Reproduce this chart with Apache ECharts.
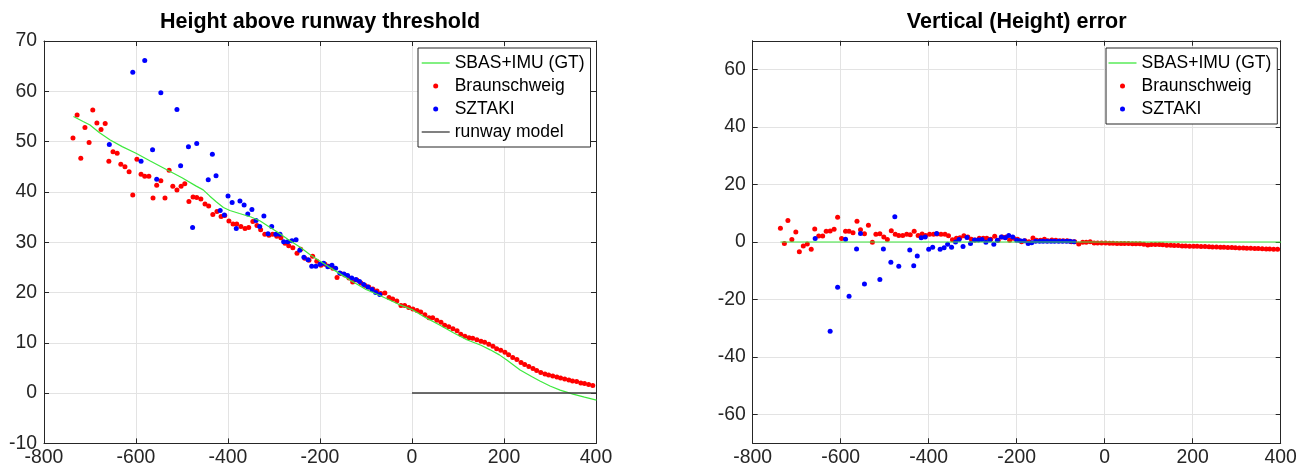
<!DOCTYPE html>
<html><head><meta charset="utf-8">
<script src="https://cdn.jsdelivr.net/npm/echarts@6/dist/echarts.min.js"></script>
<style>html,body{margin:0;padding:0;background:#fff}#c{width:1309px;height:473px}</style>
</head><body><div id="c"></div>
<script>
// ---------- data ----------
const xTicks = [-800, -600, -400, -200, 0, 200, 400];
const hTicks = [-10, 0, 10, 20, 30, 40, 50, 60, 70];
const errTicks = [-60, -40, -20, 0, 20, 40, 60];

// ground truth (SBAS+IMU) height above threshold
const gtX = [-736, -715, -700, -680, -656, -630, -600, -570, -533, -500, -470, -454, -440, -425, -410, -396, -375, -350, -330, -310, -290, -270, -243, -220, -193, -165, -135, -100, -70, -30, 0, 30, 61, 90, 119, 150, 170, 190, 206, 235, 260, 278, 300, 322, 350, 375, 401];
const gtH = [55.0, 54.0, 53.3, 51.8, 50.3, 49.0, 47.7, 46.2, 44.4, 42.8, 41.2, 40.4, 39.2, 38.0, 36.9, 36.3, 35.7, 35.0, 34.2, 33.0, 31.9, 30.6, 29.0, 27.4, 25.8, 24.2, 22.5, 20.6, 19.4, 17.7, 16.6, 15.0, 13.5, 12.0, 10.6, 9.5, 8.6, 7.6, 6.6, 4.6, 3.3, 2.4, 1.4, 0.6, -0.2, -0.8, -1.4];

// Braunschweig estimates
const bsX = [
  -737, -728, -720, -711, -702, -694, -685, -676, -667, -659,
  -650, -641, -633, -624, -615, -607, -598, -589, -581, -572,
  -563, -555, -546, -537, -528, -520, -511, -502, -494, -485,
  -476, -468, -459, -450, -442, -433, -424, -415, -407, -398,
  -389, -381, -372, -363, -355, -346, -337, -329, -320, -311,
  -303, -294, -285, -276, -268, -259, -250, -242, -233, -224,
  -216, -207, -198, -189, -181, -172, -163, -155, -146, -137,
  -129, -120, -111, -102, -94, -85, -76, -68, -59, -50,
  -42, -33, -24, -16, -7, 2, 11, 19, 28, 37,
  45, 54, 63, 71, 80, 89, 98, 106, 115, 124,
  132, 141, 150, 158, 167, 176, 184, 193, 202, 210,
  219, 228, 237, 245, 254, 263, 271, 280, 289, 297,
  306, 315, 323, 332, 341, 349, 358, 367, 375, 384,
  393, 401];
const bsH = [
  50.7, 55.3, 46.7, 52.8, 49.8, 56.3, 53.7, 52.4, 53.6, 46.1,
  48.0, 47.7, 45.5, 45.0, 44.0, 39.4, 46.5, 43.5, 43.1, 43.1,
  38.8, 41.3, 42.2, 38.8, 44.3, 41.1, 40.4, 41.1, 41.6, 38.1,
  39.0, 38.9, 38.6, 37.6, 37.2, 35.5, 36.1, 35.1, 35.3, 34.2,
  33.6, 33.6, 33.1, 32.7, 32.9, 34.1, 33.3, 32.5, 31.6, 31.4,
  31.6, 31.2, 30.9, 29.8, 29.3, 28.9, 27.8, 28.6, 26.8, 26.4,
  27.2, 26.2, 25.4, 25.6, 25.2, 24.8, 23.0, 23.8, 23.5, 22.9,
  22.1, 22.5, 21.9, 21.4, 21.1, 20.7, 20.3, 19.8, 19.9, 19.0,
  18.7, 18.3, 17.4, 17.4, 17.0, 16.7, 16.4, 16.1, 15.6, 15.0,
  15.0, 14.5, 14.1, 13.5, 13.2, 12.8, 12.4, 11.7, 11.3, 11.0,
  10.9, 10.6, 10.3, 10.1, 9.7, 9.3, 8.8, 8.5, 8.1, 7.6,
  7.1, 6.7, 6.1, 5.7, 5.3, 4.9, 4.5, 4.1, 3.8, 3.6,
  3.4, 3.2, 3.0, 2.8, 2.6, 2.4, 2.3, 2.0, 1.9, 1.7,
  1.5, 1.3];
const bsErr = [
  4.8, -0.5, 7.5, 0.9, 3.5, -3.4, -1.4, -0.7, -2.5, 4.5,
  2.1, 2.1, 3.7, 3.8, 4.4, 8.6, 1.2, 3.7, 3.7, 3.2,
  7.2, 4.3, 2.9, 5.8, -0.1, 2.7, 2.9, 1.7, 0.9, 3.9,
  2.7, 2.3, 2.3, 2.7, 2.5, 3.7, 2.3, 2.8, 2.3, 2.7,
  2.7, 2.8, 2.7, 2.7, 2.2, 0.8, 1.3, 1.5, 2.2, 1.7,
  1.0, 0.7, 1.3, 1.3, 1.3, 1.0, 2.0, 0.6, 1.7, 1.7,
  0.6, 1.3, 1.0, 0.1, 0.4, 0.1, 1.4, 0.6, 0.6, 1.0,
  0.4, 0.7, 0.6, 0.4, 0.4, 0.4, 0.1, 0.1, -0.7, -0.1,
  -0.1, 0.1, -0.35, -0.35, -0.35, -0.35, -0.4, -0.45, -0.5, -0.5,
  -0.55, -0.55, -0.6, -0.6, -0.65, -0.75, -1.0, -0.85, -0.85, -0.9,
  -0.95, -1.1, -1.15, -1.2, -1.25, -1.35, -1.4, -1.45, -1.45, -1.5,
  -1.55, -1.6, -1.65, -1.7, -1.75, -1.8, -1.85, -1.9, -1.95, -2.0,
  -2.05, -2.1, -2.15, -2.2, -2.25, -2.3, -2.35, -2.4, -2.45, -2.5,
  -2.55, -2.6];

// SZTAKI estimates
const szX = [
  -658, -624, -607, -589, -581, -564, -555, -546, -511, -503,
  -486, -477, -468, -443, -434, -426, -417, -408, -400, -391,
  -382, -374, -365, -357, -348, -339, -331, -322, -313, -305,
  -296, -287, -279, -270, -261, -252, -244, -235, -226, -218,
  -209, -200, -192, -183, -174, -166, -157, -148, -140, -131,
  -122, -114, -105, -96, -87, -79, -70];
const szH = [
  49.4, 79.5, 63.8, 46.1, 66.1, 48.4, 42.5, 59.7, 56.4, 45.2,
  49.0, 32.9, 49.6, 42.4, 47.5, 43.2, 36.3, 35.4, 39.2, 37.9,
  32.7, 38.2, 37.4, 35.6, 36.5, 34.3, 33.1, 35.2, 31.7, 33.1,
  31.6, 31.6, 30.1, 30.1, 30.3, 30.5, 28.4, 27.0, 26.5, 25.2,
  25.2, 25.6, 25.8, 25.1, 25.4, 24.8, 23.9, 23.7, 23.4, 22.9,
  22.6, 22.2, 21.6, 21.1, 20.6, 20.0, 19.6];
const szErr = [
  1.2, -31.0, -15.7, 1.0, -18.9, -2.4, 3.0, -14.6, -13.0, -2.4,
  -7.0, 8.8, -8.4, -2.8, -8.3, -4.9, 1.5, 1.7, -2.5, -1.8,
  3.0, -2.5, -2.0, -0.8, -1.8, 0.0, 0.9, -1.6, 1.6, -0.5,
  0.7, 0.7, 0.9, -0.1, 0.7, -0.8, 0.6, 1.7, 1.5, 2.3,
  1.7, 0.6, 0.4, 0.4, -0.5, -0.3, 0.3, 0.3, 0.3, 0.3,
  0.3, 0.3, 0.3, 0.3, 0.3, 0.3, 0.1];

// runway model and GT reference in error plot
const runwayX = [0, 400];
const runwayH = [0, 0];
const gtErrX = [-737, 401];
const gtErr = [0, 0];

// ---------- chart ----------
const FONT = 'Liberation Sans, Arial, Helvetica, sans-serif';
const AX = '#262626';
const GRID = '#e3e3e3';
const GREEN = '#3ee83e';
const RUNWAY = '#3c3c3c';
const zip = (a, b) => a.map((v, i) => [v, b[i]]);

function xAxisPair(gi) {
  const base = {
    type: 'value', gridIndex: gi, min: xTicks[0], max: xTicks[xTicks.length - 1], interval: 200,
    axisLine: { show: true, onZero: false, lineStyle: { color: AX, width: 1 } },
    axisTick: { show: true, inside: true, length: 5, lineStyle: { color: AX } }
  };
  return [
    Object.assign({}, base, {
      position: 'bottom',
      axisLabel: { show: true, fontSize: 19.4, color: AX, fontFamily: FONT, margin: 5 },
      splitLine: { show: true, lineStyle: { color: GRID, width: 1 } }
    }),
    Object.assign({}, base, {
      position: 'top', axisLabel: { show: false }, splitLine: { show: false }
    })
  ];
}
function yAxisPair(gi, min, max, interval, ticks) {
  const base = {
    type: 'value', gridIndex: gi, min: min, max: max, interval: interval,
    axisLine: { show: true, onZero: false, lineStyle: { color: AX, width: 1 } },
    axisTick: { show: true, inside: true, length: 5, lineStyle: { color: AX } }
  };
  if (ticks) base.axisTick.customValues = ticks;
  const lab = { show: true, fontSize: 19.4, color: AX, fontFamily: FONT, margin: 7 };
  if (ticks) lab.customValues = ticks;
  return [
    Object.assign({}, base, {
      position: 'left', axisLabel: lab,
      splitLine: { show: true, lineStyle: { color: GRID, width: 1 } }
    }),
    Object.assign({}, base, {
      position: 'right', axisLabel: { show: false }, splitLine: { show: false }
    })
  ];
}

const xa = xAxisPair(0).concat(xAxisPair(1));
const ya = yAxisPair(0, -10, 70, 10, null).concat(yAxisPair(1, -70, 70, 10, errTicks));

const legendText = { fontSize: 17.5, color: '#000', fontFamily: FONT, lineHeight: 18 };
const LINE_ICON = 'path://M0,0H28V1.3H0Z';
const gtLegend = { name: 'SBAS+IMU (GT)', icon: LINE_ICON, itemStyle: { color: GREEN } };
const rwLegend = { name: 'runway model', icon: LINE_ICON, itemStyle: { color: RUNWAY } };

const option = {
  animation: false,
  backgroundColor: '#fff',
  title: [
    { text: 'Height above runway threshold', left: 320, top: 11, textAlign: 'center', padding: 0,
      textStyle: { fontSize: 21.5, fontWeight: 'bold', color: '#000', fontFamily: FONT } },
    { text: 'Vertical (Height) error', left: 1016.7, top: 11, textAlign: 'center', padding: 0,
      textStyle: { fontSize: 21.5, fontWeight: 'bold', color: '#000', fontFamily: FONT } }
  ],
  grid: [
    { left: 44, right: 713, top: 41, bottom: 29.6, show: false },
    { left: 752.7, right: 28.3, top: 40.75, bottom: 29.75, show: false }
  ],
  xAxis: xa,
  yAxis: ya,
  legend: [
    { orient: 'vertical', left: 418, top: 48, padding: [6, 6, 6, 3.7], itemGap: 5,
      itemWidth: 28, itemHeight: 5, selectedMode: false, symbolKeepAspect: true,
      borderColor: AX, borderWidth: 1, backgroundColor: '#fff',
      textStyle: legendText,
      data: [gtLegend, 'Braunschweig', 'SZTAKI', rwLegend] },
    { orient: 'vertical', left: 1106, top: 48, padding: [6, 6, 6, 2.5], itemGap: 5,
      itemWidth: 28, itemHeight: 5, selectedMode: false, symbolKeepAspect: true,
      borderColor: AX, borderWidth: 1, backgroundColor: '#fff',
      textStyle: legendText,
      data: [gtLegend, 'Braunschweig', 'SZTAKI'] }
  ],
  series: [
    { name: 'SBAS+IMU (GT)', type: 'line', xAxisIndex: 0, yAxisIndex: 0, data: zip(gtX, gtH),
      symbol: 'none', smooth: false, lineStyle: { color: GREEN, width: 1.2 }, itemStyle: { color: GREEN }, clip: true },
    { name: 'Braunschweig', type: 'scatter', xAxisIndex: 0, yAxisIndex: 0, data: zip(bsX, bsH),
      symbol: 'circle', symbolSize: 5, itemStyle: { color: '#ff0000', opacity: 1 }, clip: true },
    { name: 'SZTAKI', type: 'scatter', xAxisIndex: 0, yAxisIndex: 0, data: zip(szX, szH),
      symbol: 'circle', symbolSize: 5, itemStyle: { color: '#0000ff', opacity: 1 }, clip: true },
    { name: 'runway model', type: 'line', xAxisIndex: 0, yAxisIndex: 0, data: zip(runwayX, runwayH),
      symbol: 'none', lineStyle: { color: RUNWAY, width: 1.5 }, itemStyle: { color: RUNWAY } },

    { name: 'SBAS+IMU (GT)', type: 'line', xAxisIndex: 2, yAxisIndex: 2, data: zip(gtErrX, gtErr),
      symbol: 'none', lineStyle: { color: GREEN, width: 1.2 }, itemStyle: { color: GREEN } },
    { name: 'Braunschweig', type: 'scatter', xAxisIndex: 2, yAxisIndex: 2, data: zip(bsX, bsErr),
      symbol: 'circle', symbolSize: 5, itemStyle: { color: '#ff0000', opacity: 1 }, clip: true },
    { name: 'SZTAKI', type: 'scatter', xAxisIndex: 2, yAxisIndex: 2, data: zip(szX, szErr),
      symbol: 'circle', symbolSize: 5, itemStyle: { color: '#0000ff', opacity: 1 }, clip: true }
  ]
};

const chart = echarts.init(document.getElementById('c'), null, { renderer: 'canvas' });
chart.setOption(option);
</script>
</body></html>
